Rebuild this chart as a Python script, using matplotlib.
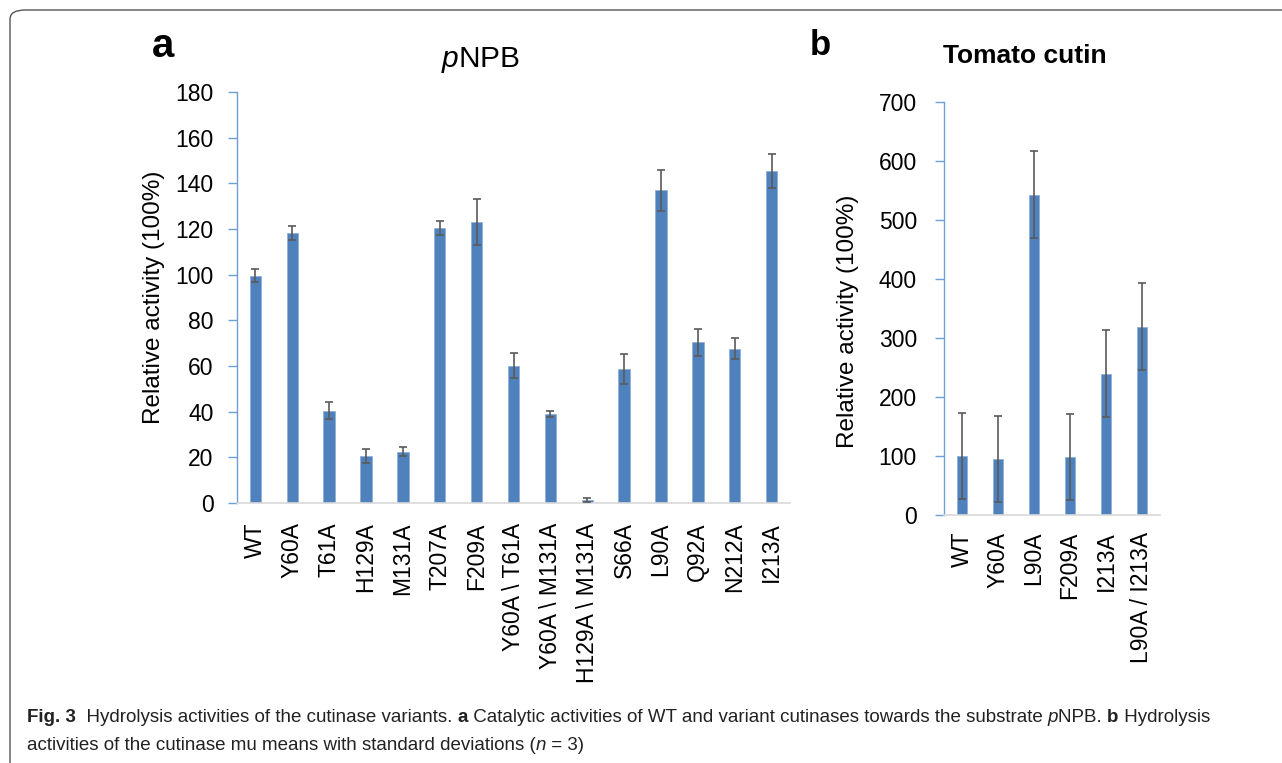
import matplotlib
matplotlib.use('Agg')
from matplotlib import pyplot as plt
from matplotlib.patches import FancyBboxPatch

# panel a: pNPB
variants_a = ['WT', 'Y60A', 'T61A', 'H129A', 'M131A', 'T207A', 'F209A',
              'Y60A \\ T61A', 'Y60A \\ M131A', 'H129A \\ M131A', 'S66A',
              'L90A', 'Q92A', 'N212A', 'I213A']
activity_a = [99.6, 118.4, 40.5, 20.4, 22.5, 120.5, 123.0, 60.2, 39.0, 1.3,
              58.7, 136.9, 70.3, 67.6, 145.4]
sd_a = [3.0, 3.0, 3.6, 3.1, 2.0, 3.0, 10.2, 5.6, 1.5, 1.0, 6.6, 9.0, 5.8,
        4.7, 7.3]

# panel b: tomato cutin
variants_b = ['WT', 'Y60A', 'L90A', 'F209A', 'I213A', 'L90A / I213A']
activity_b = [100.6, 94.5, 542.7, 98.4, 239.7, 319.4]
sd_b = [73.0, 73.0, 73.5, 73.4, 73.5, 73.6]

W, H = 1282, 763
BAR = '#4F81BD'
AXBLUE = '#6F9FD8'
ERR = '#5A5A5A'

plt.rcParams['font.family'] = ['Liberation Sans', 'DejaVu Sans']
plt.rcParams['mathtext.fontset'] = 'custom'
plt.rcParams['mathtext.rm'] = 'Liberation Sans'
plt.rcParams['mathtext.it'] = 'Liberation Sans:italic'

fig = plt.figure(figsize=(W / 100, H / 100), dpi=100)


def px_axes(x0, y0, x1, y1):
    # axes box given in pixel coords (top-left origin)
    return fig.add_axes([x0 / W, 1 - y1 / H, (x1 - x0) / W, (y1 - y0) / H])


def style_axes(ax, names, ymax, step, xpad, ypad):
    for s in ['top', 'right']:
        ax.spines[s].set_visible(False)
    ax.spines['left'].set_color(AXBLUE)
    ax.spines['left'].set_linewidth(1.0)
    ax.spines['bottom'].set_color('#D9D9D9')
    ax.spines['bottom'].set_linewidth(1.2)
    ax.set_ylim(0, ymax)
    ax.set_yticks(range(0, ymax + 1, step))
    ax.set_xlim(-0.5, len(names) - 0.5)
    ax.set_xticks(range(len(names)))
    ax.set_xticklabels(names, rotation=90, fontsize=16.5, va='top',
                       ha='center')
    ax.tick_params(axis='x', length=0, pad=xpad)
    ax.tick_params(axis='y', length=6.5, width=1.0, color=AXBLUE,
                   labelsize=16.5, pad=ypad)
    ax.set_ylabel('Relative activity (100%)', fontsize=17.5)


# draw panel a
ax1 = px_axes(237, 92, 790, 503)
ax1.bar(range(len(variants_a)), activity_a, width=0.31, color=BAR,
        edgecolor='#8FB0DA', linewidth=0.6, zorder=2)
ax1.errorbar(range(len(variants_a)), activity_a, yerr=sd_a, fmt='none',
             ecolor=ERR, elinewidth=1.2, capsize=2.6, capthick=1.2, zorder=3)
style_axes(ax1, variants_a, 180, 20, 14, 10.5)
ax1.yaxis.set_label_coords(-0.130, 0.5)

# draw panel b
ax2 = px_axes(944, 102, 1160, 515)
ax2.bar(range(len(variants_b)), activity_b, width=0.29, color=BAR,
        edgecolor='#8FB0DA', linewidth=0.6, zorder=2)
ax2.errorbar(range(len(variants_b)), activity_b, yerr=sd_b, fmt='none',
             ecolor=ERR, elinewidth=1.2, capsize=2.6, capthick=1.2, zorder=3)
style_axes(ax2, variants_b, 700, 100, 12, 13)
ax2.yaxis.set_label_coords(-0.395, 0.47)


def ftext(x, y, s, **kw):
    return fig.text(x / W, 1 - y / H, s, **kw)


# panel letters and titles
ftext(163, 57, 'a', fontsize=29, fontweight='bold', ha='center',
      va='baseline')
ftext(820, 55, 'b', fontsize=25, fontweight='bold', ha='center',
      va='baseline')
ftext(481, 67, r'$\it{p}$NPB', fontsize=21.5, ha='center', va='baseline')
ftext(1025, 63, 'Tomato cutin', fontsize=19, fontweight='bold', ha='center',
      va='baseline')

# caption, drawn piece by piece so styles can mix
line1 = [('Fig. 3', 'bold', 'normal'),
         ('  Hydrolysis activities of the cutinase variants. ', 'normal', 'normal'),
         ('a', 'bold', 'normal'),
         (' Catalytic activities of WT and variant cutinases towards the substrate ',
          'normal', 'normal'),
         ('p', 'normal', 'italic'),
         ('NPB. ', 'normal', 'normal'),
         ('b', 'bold', 'normal'),
         (' Hydrolysis', 'normal', 'normal')]
line2 = [('activities of the cutinase mu means with standard deviations (',
          'normal', 'normal'),
         ('n', 'normal', 'italic'),
         (' = 3)', 'normal', 'normal')]

renderer = fig.canvas.get_renderer()
for line, base in [(line1, 722), (line2, 750)]:
    x = 27
    for s, wt, st in line:
        t = ftext(x, base, s, fontsize=13.5, fontweight=wt, fontstyle=st,
                  color='#222222', va='baseline')
        bb = t.get_window_extent(renderer=renderer)
        x += bb.width

# frame round the figure
frame = FancyBboxPatch((10 / W, -0.05), 1.05, 1 - 10 / H + 0.05,
                       boxstyle='round,pad=0,rounding_size=0.012',
                       transform=fig.transFigure, fill=False,
                       edgecolor='#555555', linewidth=1.0)
fig.patches.append(frame)

plt.savefig('out.png', dpi=100)
